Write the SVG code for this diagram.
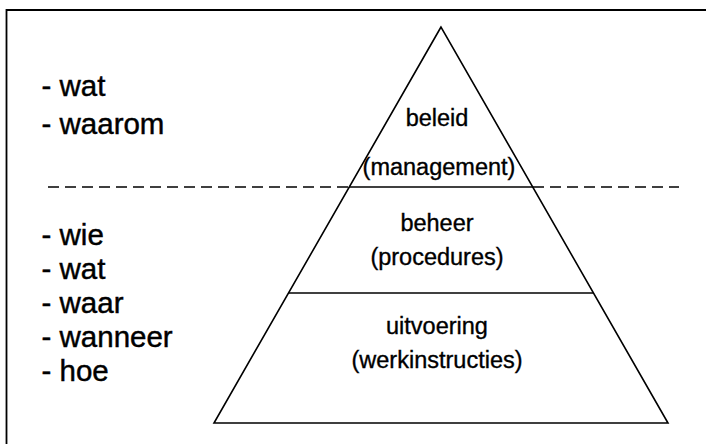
<svg xmlns="http://www.w3.org/2000/svg" width="706" height="444" viewBox="0 0 706 444">
  <style>
    .frame { fill: none; stroke: #000; stroke-width: 1.8; }
    .edge { fill: none; stroke: #000; stroke-width: 1.6; stroke-linejoin: miter; }
    .tier { fill: none; stroke: #000; stroke-width: 1.5; }
    .dash { fill: none; stroke: #000; stroke-width: 1.5; stroke-dasharray: 11 6; }
    .lt { font-family: "Liberation Sans", Arial, Helvetica, sans-serif; font-size: 29.5px; fill: #000; stroke: #000; stroke-width: 0.45; }
    .pt { font-family: "Liberation Sans", Arial, Helvetica, sans-serif; font-size: 23.5px; fill: #000; stroke: #000; stroke-width: 0.35; text-anchor: middle; }
  </style>
  <rect x="0" y="0" width="706" height="444" fill="#fff"/>
  <g id="frame">
    <polyline class="frame" points="6.5,444 6.5,10 706,10"/>
  </g>
  <g id="questions-top">
    <text class="lt" x="41.5" y="96">- wat</text>
    <text class="lt" x="41.5" y="134">- waarom</text>
  </g>
  <g id="questions-bottom">
    <text class="lt" x="41.5" y="245">- wie</text>
    <text class="lt" x="41.5" y="279">- wat</text>
    <text class="lt" x="41.5" y="313">- waar</text>
    <text class="lt" x="41.5" y="347">- wanneer</text>
    <text class="lt" x="41.5" y="381">- hoe</text>
  </g>
  <g id="pyramid">
    <polygon class="edge" points="441,27 214,423 668,423"/>
  </g>
  <g id="beleid">
    <text class="pt" x="437" y="126">beleid</text>
    <text class="pt" x="439" y="175">(management)</text>
  </g>
  <g id="beheer">
    <line class="tier" x1="349" y1="187" x2="533" y2="187"/>
    <text class="pt" x="437" y="231">beheer</text>
    <text class="pt" x="437" y="265">(procedures)</text>
  </g>
  <g id="uitvoering">
    <line class="tier" x1="288.5" y1="293" x2="593.5" y2="293"/>
    <text class="pt" x="437" y="334">uitvoering</text>
    <text class="pt" x="437" y="368">(werkinstructies)</text>
  </g>
  <g id="connectors">
    <line class="dash" x1="48" y1="187" x2="349" y2="187"/>
    <line class="dash" x1="533" y1="187" x2="679" y2="187"/>
  </g>
</svg>
